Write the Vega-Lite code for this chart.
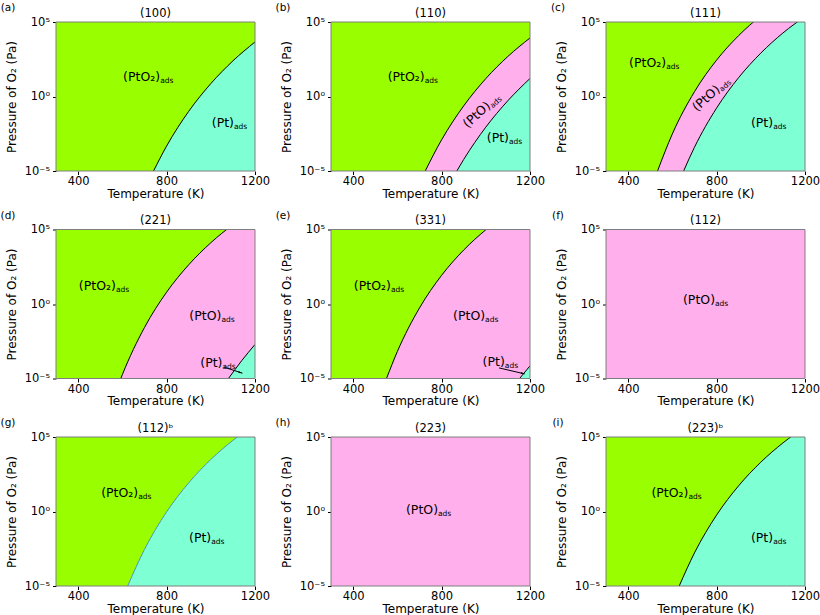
{
  "$schema": "https://vega.github.io/schema/vega-lite/v6.json",
  "background": "white",
  "padding": {"left": 0, "top": 3, "right": 5, "bottom": 3},
  "config": {
    "font": "DejaVu Sans",
    "view": {"stroke": null},
    "axis": {"grid": false, "domain": false, "tickColor": "black", "tickSize": 3.5, "labelColor": "black", "titleColor": "black", "labelFontSize": 11.5, "titleFontSize": 12, "titleFontWeight": "normal", "labelPadding": 3, "labelFlush": false}
  },
  "data": {"values": [
    {"surface": "(100)", "phase": "PtO2", "T": 300, "p": 100000},
    {"surface": "(100)", "phase": "PtO2", "T": 1200, "p": 100000},
    {"surface": "(100)", "phase": "Pt", "T": 741, "p": 0.00001},
    {"surface": "(100)", "phase": "Pt", "T": 800, "p": 0.000468},
    {"surface": "(100)", "phase": "Pt", "T": 900, "p": 0.1},
    {"surface": "(100)", "phase": "Pt", "T": 1000, "p": 7.29},
    {"surface": "(100)", "phase": "Pt", "T": 1100, "p": 245},
    {"surface": "(100)", "phase": "Pt", "T": 1200, "p": 4570},

    {"surface": "(110)", "phase": "PtO2", "T": 300, "p": 100000},
    {"surface": "(110)", "phase": "PtO2", "T": 1200, "p": 100000},
    {"surface": "(110)", "phase": "PtO", "T": 726, "p": 0.00001},
    {"surface": "(110)", "phase": "PtO", "T": 800, "p": 0.00123},
    {"surface": "(110)", "phase": "PtO", "T": 900, "p": 0.234},
    {"surface": "(110)", "phase": "PtO", "T": 1000, "p": 15.8},
    {"surface": "(110)", "phase": "PtO", "T": 1100, "p": 490},
    {"surface": "(110)", "phase": "PtO", "T": 1200, "p": 8510},
    {"surface": "(110)", "phase": "Pt", "T": 869, "p": 0.00001},
    {"surface": "(110)", "phase": "Pt", "T": 900, "p": 0.0000589},
    {"surface": "(110)", "phase": "Pt", "T": 1000, "p": 0.00871},
    {"surface": "(110)", "phase": "Pt", "T": 1100, "p": 0.525},
    {"surface": "(110)", "phase": "Pt", "T": 1200, "p": 16.2},

    {"surface": "(111)", "phase": "PtO2", "T": 300, "p": 100000},
    {"surface": "(111)", "phase": "PtO2", "T": 1200, "p": 100000},
    {"surface": "(111)", "phase": "PtO", "T": 533, "p": 0.00001},
    {"surface": "(111)", "phase": "PtO", "T": 600, "p": 0.00309},
    {"surface": "(111)", "phase": "PtO", "T": 700, "p": 2.09},
    {"surface": "(111)", "phase": "PtO", "T": 800, "p": 275},
    {"surface": "(111)", "phase": "PtO", "T": 900, "p": 12300},
    {"surface": "(111)", "phase": "PtO", "T": 1000, "p": 257000},
    {"surface": "(111)", "phase": "PtO", "T": 1100, "p": 3020000},
    {"surface": "(111)", "phase": "PtO", "T": 1200, "p": 24000000},
    {"surface": "(111)", "phase": "Pt", "T": 651, "p": 0.00001},
    {"surface": "(111)", "phase": "Pt", "T": 700, "p": 0.000389},
    {"surface": "(111)", "phase": "Pt", "T": 800, "p": 0.166},
    {"surface": "(111)", "phase": "Pt", "T": 900, "p": 18.6},
    {"surface": "(111)", "phase": "Pt", "T": 1000, "p": 813},
    {"surface": "(111)", "phase": "Pt", "T": 1100, "p": 18200},
    {"surface": "(111)", "phase": "Pt", "T": 1200, "p": 234000},

    {"surface": "(221)", "phase": "PtO2", "T": 300, "p": 100000},
    {"surface": "(221)", "phase": "PtO2", "T": 1200, "p": 100000},
    {"surface": "(221)", "phase": "PtO", "T": 593, "p": 0.00001},
    {"surface": "(221)", "phase": "PtO", "T": 600, "p": 0.0000182},
    {"surface": "(221)", "phase": "PtO", "T": 700, "p": 0.0263},
    {"surface": "(221)", "phase": "PtO", "T": 800, "p": 6.17},
    {"surface": "(221)", "phase": "PtO", "T": 900, "p": 427},
    {"surface": "(221)", "phase": "PtO", "T": 1000, "p": 12900},
    {"surface": "(221)", "phase": "PtO", "T": 1100, "p": 209000},
    {"surface": "(221)", "phase": "PtO", "T": 1200, "p": 2090000},
    {"surface": "(221)", "phase": "Pt", "T": 1080, "p": 0.00001},
    {"surface": "(221)", "phase": "Pt", "T": 1140, "p": 0.000158},
    {"surface": "(221)", "phase": "Pt", "T": 1200, "p": 0.00191},

    {"surface": "(331)", "phase": "PtO2", "T": 300, "p": 100000},
    {"surface": "(331)", "phase": "PtO2", "T": 1200, "p": 100000},
    {"surface": "(331)", "phase": "PtO", "T": 551, "p": 0.00001},
    {"surface": "(331)", "phase": "PtO", "T": 600, "p": 0.000646},
    {"surface": "(331)", "phase": "PtO", "T": 700, "p": 0.537},
    {"surface": "(331)", "phase": "PtO", "T": 800, "p": 83.2},
    {"surface": "(331)", "phase": "PtO", "T": 900, "p": 4170},
    {"surface": "(331)", "phase": "PtO", "T": 1000, "p": 95500},
    {"surface": "(331)", "phase": "PtO", "T": 1100, "p": 1260000},
    {"surface": "(331)", "phase": "PtO", "T": 1200, "p": 10700000},
    {"surface": "(331)", "phase": "Pt", "T": 1153, "p": 0.00001},
    {"surface": "(331)", "phase": "Pt", "T": 1200, "p": 0.0000708},

    {"surface": "(112)", "phase": "PtO", "T": 300, "p": 100000},
    {"surface": "(112)", "phase": "PtO", "T": 1200, "p": 100000},

    {"surface": "(112)ᵇ", "phase": "PtO2", "T": 300, "p": 100000},
    {"surface": "(112)ᵇ", "phase": "PtO2", "T": 1200, "p": 100000},
    {"surface": "(112)ᵇ", "phase": "Pt", "T": 624, "p": 0.00001},
    {"surface": "(112)ᵇ", "phase": "Pt", "T": 700, "p": 0.00282},
    {"surface": "(112)ᵇ", "phase": "Pt", "T": 800, "p": 0.933},
    {"surface": "(112)ᵇ", "phase": "Pt", "T": 900, "p": 83.2},
    {"surface": "(112)ᵇ", "phase": "Pt", "T": 1000, "p": 3090},
    {"surface": "(112)ᵇ", "phase": "Pt", "T": 1100, "p": 58900},
    {"surface": "(112)ᵇ", "phase": "Pt", "T": 1200, "p": 692000},

    {"surface": "(223)", "phase": "PtO", "T": 300, "p": 100000},
    {"surface": "(223)", "phase": "PtO", "T": 1200, "p": 100000},

    {"surface": "(223)ᵇ", "phase": "PtO2", "T": 300, "p": 100000},
    {"surface": "(223)ᵇ", "phase": "PtO2", "T": 1200, "p": 100000},
    {"surface": "(223)ᵇ", "phase": "Pt", "T": 631, "p": 0.00001},
    {"surface": "(223)ᵇ", "phase": "Pt", "T": 700, "p": 0.00166},
    {"surface": "(223)ᵇ", "phase": "Pt", "T": 800, "p": 0.575},
    {"surface": "(223)ᵇ", "phase": "Pt", "T": 900, "p": 53.7},
    {"surface": "(223)ᵇ", "phase": "Pt", "T": 1000, "p": 2040},
    {"surface": "(223)ᵇ", "phase": "Pt", "T": 1100, "p": 39800},
    {"surface": "(223)ᵇ", "phase": "Pt", "T": 1200, "p": 479000},

    {"surface": "(100)", "main": "(PtO₂)", "sub": "ads", "T": 771, "p": 10.7},
    {"surface": "(100)", "main": "(Pt)", "sub": "ads", "T": 1105, "p": 0.00891},
    {"surface": "(110)", "main": "(PtO₂)", "sub": "ads", "T": 724, "p": 10.7},
    {"surface": "(110)", "main": "(Pt)", "sub": "ads", "T": 1105, "p": 0.000832},
    {"surface": "(110)", "main": "(PtO)", "sub": "ads", "tilt": true, "T": 1025, "p": 0.195},
    {"surface": "(111)", "main": "(PtO₂)", "sub": "ads", "T": 572, "p": 91.2},
    {"surface": "(111)", "main": "(Pt)", "sub": "ads", "T": 1056, "p": 0.00891},
    {"surface": "(111)", "main": "(PtO)", "sub": "ads", "tilt": true, "T": 819, "p": 2.51},
    {"surface": "(221)", "main": "(PtO₂)", "sub": "ads", "T": 571, "p": 8.71},
    {"surface": "(221)", "main": "(PtO)", "sub": "ads", "T": 1048, "p": 0.0891},
    {"surface": "(221)", "main": "(Pt)", "sub": "ads", "T": 1053, "p": 0.0000575},
    {"surface": "(331)", "main": "(PtO₂)", "sub": "ads", "T": 571, "p": 8.71},
    {"surface": "(331)", "main": "(PtO)", "sub": "ads", "T": 997, "p": 0.0891},
    {"surface": "(331)", "main": "(Pt)", "sub": "ads", "T": 1086, "p": 0.0000676},
    {"surface": "(112)", "main": "(PtO)", "sub": "ads", "T": 793, "p": 0.933},
    {"surface": "(112)ᵇ", "main": "(PtO₂)", "sub": "ads", "T": 672, "p": 8.91},
    {"surface": "(112)ᵇ", "main": "(Pt)", "sub": "ads", "T": 1002, "p": 0.00912},
    {"surface": "(223)", "main": "(PtO)", "sub": "ads", "T": 784, "p": 0.676},
    {"surface": "(223)ᵇ", "main": "(PtO₂)", "sub": "ads", "T": 673, "p": 8.91},
    {"surface": "(223)ᵇ", "main": "(Pt)", "sub": "ads", "T": 1056, "p": 0.00912},

    {"surface": "(221)", "arrow": "tail", "T": 1060, "p": 0.0000575},
    {"surface": "(221)", "arrow": "tip", "T": 1143, "p": 0.0000229},
    {"surface": "(331)", "arrow": "tail", "T": 1060, "p": 0.0000513},
    {"surface": "(331)", "arrow": "tip", "T": 1176, "p": 0.0000204},

    {"surface": "(100)", "tag": "(a)", "T": 300, "p": 100000},
    {"surface": "(110)", "tag": "(b)", "T": 300, "p": 100000},
    {"surface": "(111)", "tag": "(c)", "T": 300, "p": 100000},
    {"surface": "(221)", "tag": "(d)", "T": 300, "p": 100000},
    {"surface": "(331)", "tag": "(e)", "T": 300, "p": 100000},
    {"surface": "(112)", "tag": "(f)", "T": 300, "p": 100000},
    {"surface": "(112)ᵇ", "tag": "(g)", "T": 300, "p": 100000},
    {"surface": "(223)", "tag": "(h)", "T": 300, "p": 100000},
    {"surface": "(223)ᵇ", "tag": "(i)", "T": 300, "p": 100000}
  ]},
  "facet": {
    "field": "surface",
    "type": "nominal",
    "sort": ["(100)", "(110)", "(111)", "(221)", "(331)", "(112)", "(112)ᵇ", "(223)", "(223)ᵇ"],
    "header": {"title": null, "labelFontSize": 11.5, "labelColor": "black", "labelPadding": -16}
  },
  "columns": 3,
  "bounds": "flush",
  "spacing": {"row": 58.5, "column": 76},
  "resolve": {"axis": {"x": "independent", "y": "independent"}},
  "spec": {
    "width": 199,
    "height": 149,
    "encoding": {
      "x": {
        "field": "T",
        "type": "quantitative",
        "title": "Temperature (K)",
        "scale": {"domain": [300, 1200], "nice": false, "zero": false},
        "axis": {"values": [400, 800, 1200], "format": "d", "labelPadding": 1, "titlePadding": 1}
      },
      "y": {
        "field": "p",
        "type": "quantitative",
        "title": "Pressure of O₂ (Pa)",
        "scale": {"type": "log", "domain": [0.00001, 100000], "nice": false},
        "axis": {
          "values": [0.00001, 1, 100000],
          "labelExpr": "datum.value < 0.5 ? '10⁻⁵' : datum.value > 2 ? '10⁵' : '10⁰'",
          "titlePadding": 6
        }
      }
    },
    "layer": [
      {
        "transform": [{"filter": "datum.phase"}],
        "mark": {"type": "area", "clip": true, "interpolate": "monotone"},
        "encoding": {
          "y2": {"datum": 0.00001},
          "color": {
            "field": "phase",
            "type": "nominal",
            "legend": null,
            "scale": {"domain": ["PtO2", "PtO", "Pt"], "range": ["#99ff00", "#ffafeb", "#7fffd4"]}
          }
        }
      },
      {
        "transform": [{"filter": "datum.phase && datum.phase != 'PtO2' && datum.surface != '(112)' && datum.surface != '(223)'"}],
        "mark": {"type": "line", "clip": true, "interpolate": "monotone", "strokeWidth": 1},
        "encoding": {
          "detail": {"field": "phase"},
          "color": {"condition": {"test": "datum.surface == '(112)ᵇ'", "value": "#4f97b5"}, "value": "black"}
        }
      },
      {
        "transform": [{"filter": "datum.tag"}],
        "mark": {"type": "rect", "fill": null, "stroke": "#7f7f7f", "strokeWidth": 1},
        "encoding": {
          "x": {"datum": 300},
          "x2": {"datum": 1200},
          "y": {"datum": 100000},
          "y2": {"datum": 0.00001}
        }
      },
      {
        "transform": [{"filter": "datum.arrow"}],
        "mark": {"type": "line", "color": "black", "strokeWidth": 1},
        "encoding": {"detail": {"field": "surface"}}
      },
      {
        "transform": [{"filter": "datum.arrow == 'tip'"}],
        "mark": {"type": "point", "shape": "M 0 0 L -1 -0.25 L -1 0.25 Z", "filled": true, "color": "black", "opacity": 1, "size": 60, "angle": 16}
      },
      {
        "transform": [{"filter": "datum.main && !datum.tilt"}],
        "mark": {"type": "text", "align": "right", "baseline": "alphabetic", "fontSize": 12.5, "color": "black"},
        "encoding": {"text": {"field": "main"}}
      },
      {
        "transform": [{"filter": "datum.main && !datum.tilt"}],
        "mark": {"type": "text", "align": "left", "baseline": "alphabetic", "fontSize": 7.5, "dy": 2, "color": "black"},
        "encoding": {"text": {"field": "sub"}}
      },
      {
        "transform": [{"filter": "datum.tilt"}],
        "mark": {"type": "text", "align": "right", "baseline": "alphabetic", "fontSize": 12.5, "angle": 318, "color": "black"},
        "encoding": {"text": {"field": "main"}}
      },
      {
        "transform": [{"filter": "datum.tilt"}],
        "mark": {"type": "text", "align": "left", "baseline": "alphabetic", "fontSize": 7.5, "angle": 318, "dy": 2, "color": "black"},
        "encoding": {"text": {"field": "sub"}}
      },
      {
        "transform": [{"filter": "datum.tag"}],
        "mark": {"type": "text", "align": "center", "baseline": "middle", "fontSize": 10.5, "dx": -48, "dy": -14, "color": "black"},
        "encoding": {"text": {"field": "tag"}}
      }
    ]
  }
}
